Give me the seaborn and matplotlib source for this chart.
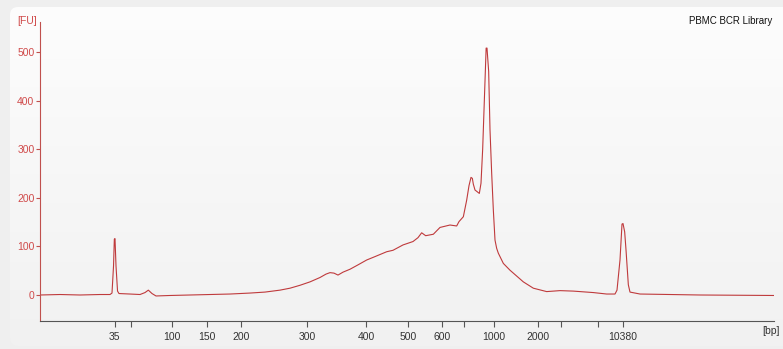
import numpy as np
import pandas as pd
import matplotlib
matplotlib.use("Agg")
import matplotlib.pyplot as plt
from matplotlib.patches import FancyBboxPatch
import seaborn as sns

# electropherogram trace: migration time [s] vs fluorescence [FU]
time_s = [20.0, 23.0, 26.0, 29.0, 30.5, 30.8, 31.03, 31.15, 31.25, 31.4, 31.63, 31.85,
          33.5, 35.0, 35.75, 36.25, 36.8, 37.4, 39.5, 42.5, 45.5, 48.5, 51.5,
          53.75, 56.0, 57.5, 59.0, 60.5, 62.0, 62.9, 63.5, 64.1, 64.7, 65.45,
          66.5, 67.7, 69.0, 70.25, 72.0, 72.95, 74.45, 75.95, 76.7, 77.25,
          77.85, 79.0, 80.0, 81.5, 82.5, 82.85, 83.5, 84.0, 84.35, 84.65, 84.85,
          85.0, 85.25, 85.9, 86.15, 86.4, 86.5, 86.75, 86.92, 87.05, 87.3, 87.5,
          87.75, 88.0, 88.25, 88.5, 88.75, 89.5, 90.5, 91.75, 92.5, 94.0, 96.0,
          98.0, 100.0, 103.0, 105.0, 106.25, 106.55, 107.0, 107.3, 107.45, 107.7,
          107.9, 108.25, 108.5, 110.0, 119.0, 130.1]
fu = [0, 1, 0, 1, 1, 4, 60, 115, 116, 60, 8, 3,
      2, 1, 5, 10, 3, -2, -1, 0, 1, 2, 4,
      6, 10, 14, 20, 27, 36, 43, 46, 45, 41, 47,
      53, 62, 72, 79, 89, 92, 103, 110, 118, 128,
      122, 125, 139, 144, 142, 151, 161, 195, 225, 242, 240,
      228, 216, 209, 230, 300, 340, 440, 508, 508, 460, 340,
      251, 175, 113, 96, 86, 65, 51, 36, 27, 14, 7,
      9, 8, 5, 2, 2, 10, 72, 146, 147, 130,
      93, 21, 6, 2, 0, -1]

# ladder positions (migration time) and their bp labels
tick_pos = [31.2, 39.8, 45.05, 50.15, 60.05, 68.9, 75.2, 80.3, 88.1, 94.7, 107.45]
tick_lab = ["35", "100", "150", "200", "300", "400", "500", "600", "1000", "2000", "10380"]
minor_pos = [33.65, 83.6, 98.15, 103.7]

df = pd.DataFrame({"time": time_s, "fu": fu})

W, H = 783, 349
fig = plt.figure(figsize=(W / 100, H / 100), dpi=100)
fig.patch.set_facecolor("#efefef")

# rounded light panel with a soft vertical gradient
bg = fig.add_axes([0, 0, 1, 1], zorder=-5)
bg.set_xlim(0, W)
bg.set_ylim(H, 0)
bg.axis("off")
grad = np.linspace(0, 1, 256).reshape(-1, 1)
im = bg.imshow(grad, extent=[0, W, H, 0], aspect="auto",
               cmap=matplotlib.colors.LinearSegmentedColormap.from_list(
                   "g", ["#fdfdfd", "#f1f1f1"]))
panel = FancyBboxPatch((10, 7), W + 20, 339, boxstyle="round,pad=0,rounding_size=8",
                       transform=bg.transData, facecolor="none", edgecolor="none")
bg.add_patch(panel)
im.set_clip_path(panel)

red = "#c0504d"
ax = fig.add_axes([40 / W, 1 - 321 / H, (774 - 40) / W, (321 - 22) / H])
ax.set_facecolor("none")

sns.lineplot(data=df, x="time", y="fu", ax=ax, color="#bf3a3c", lw=0.8,
             estimator=None, sort=False)

ax.set_xlim(20, 130.1)
ax.set_ylim(-53.5, 561.7)
ax.set_xlabel("")
ax.set_ylabel("")

for s in ["top", "right"]:
    ax.spines[s].set_visible(False)
ax.spines["left"].set_color(red)
ax.spines["bottom"].set_color("#555555")

ax.set_yticks([0, 100, 200, 300, 400, 500])
ax.tick_params(axis="y", colors=red, labelcolor="#d04a4a", length=3, width=0.8,
               labelsize=7.5, pad=1)
ax.set_xticks(tick_pos)
ax.set_xticklabels(tick_lab)
ax.set_xticks(minor_pos, minor=True)
ax.tick_params(axis="x", which="both", colors="#555555", labelcolor="#333333",
               length=4, width=0.8, labelsize=7.5, pad=4)
for lab in ax.get_xticklabels() + ax.get_yticklabels():
    lab.set_fontfamily("Liberation Sans")

fig.text(17 / W, 1 - 21 / H, "[FU]", color="#d04a4a", fontsize=7.5,
         family="Liberation Sans", ha="left", va="center")
fig.text(762 / W, 1 - 331 / H, "[bp]", color="#333333", fontsize=7.5,
         family="Liberation Sans", ha="left", va="center")
fig.text(772 / W, 1 - 21 / H, "PBMC BCR Library", color="#111111", fontsize=7,
         family="Liberation Sans", ha="right", va="center")

fig.savefig("out.png", dpi=100, facecolor=fig.get_facecolor())
